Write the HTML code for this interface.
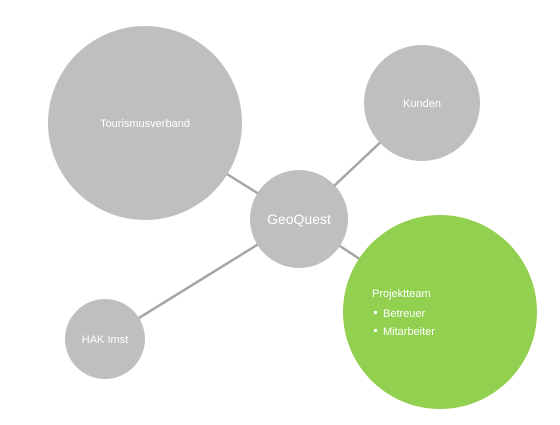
<!DOCTYPE html>
<html><head><style>body{margin:0;background:#fff}</style></head><body>
<svg width="560" height="420" xmlns="http://www.w3.org/2000/svg" font-family="Liberation Sans, sans-serif">
<g stroke="#a6a6a6" stroke-width="2.5">
<line x1="145" y1="123" x2="299" y2="219"/>
<line x1="422" y1="103" x2="299" y2="219"/>
<line x1="105" y1="339" x2="299" y2="219"/>
<line x1="440" y1="312" x2="299" y2="219"/>
</g>
<circle cx="145" cy="123" r="97" fill="#bfbfbf"/>
<circle cx="422" cy="103" r="58" fill="#bfbfbf"/>
<circle cx="105" cy="339" r="40" fill="#bfbfbf"/>
<circle cx="299" cy="219" r="49" fill="#bfbfbf"/>
<circle cx="440" cy="312" r="97" fill="#92d050"/>
<g fill="#fff" font-size="11" text-anchor="middle">
<text x="145" y="127">Tourismusverband</text>
<text x="422" y="107">Kunden</text>
<text x="105" y="343">HAK Imst</text>
<text x="299" y="224" font-size="14">GeoQuest</text>
</g>
<g fill="#fff" font-size="11">
<text x="372" y="297">Projektteam</text>
<rect x="374" y="311" width="3" height="3"/>
<text x="383" y="317">Betreuer</text>
<rect x="374" y="329" width="3" height="3"/>
<text x="383" y="335">Mitarbeiter</text>
</g>
</svg>
</body></html>
